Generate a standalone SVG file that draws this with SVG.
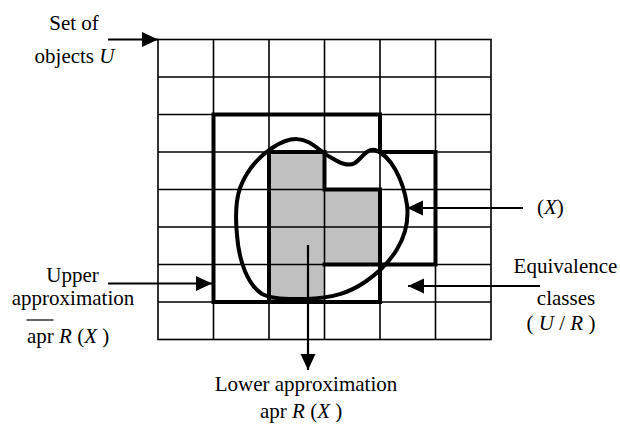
<svg xmlns="http://www.w3.org/2000/svg" width="620" height="427" viewBox="0 0 620 427">
<style>
.grid{stroke:#000;stroke-width:1.6;fill:none}
.thick{stroke:#000;stroke-width:4;fill:none;stroke-linejoin:miter;stroke-linecap:square}
.curve{stroke:#000;stroke-width:4;fill:none}
.arr{stroke:#000;stroke-width:2.2;fill:none}
text{font-family:"Liberation Serif","Times New Roman",serif;font-size:21px;fill:#000}
.it{font-style:italic}
</style>
<defs>
<marker id="ah" markerUnits="userSpaceOnUse" markerWidth="18" markerHeight="16" refX="16" refY="7.5" orient="auto">
<path d="M0,0 L16,7.5 L0,15 Z" fill="#000"/>
</marker>
</defs>
<g id="lower-fill">
<path d="M269,152 H324.5 V189.5 H380 V264.5 H324.5 V302 H269 Z" fill="#c0c0c0"/>
</g>
<g id="grid" class="grid">
<rect x="158" y="39.5" width="333" height="300"/>
<path d="M213.5,39.5 V339.5 M269,39.5 V339.5 M324.5,39.5 V339.5 M380,39.5 V339.5 M435.5,39.5 V339.5"/>
<path d="M158,77 H491 M158,114.5 H491 M158,152 H491 M158,189.5 H491 M158,227 H491 M158,264.5 H491 M158,302 H491"/>
</g>
<g id="upper-approximation">
<path class="thick" d="M213.5,114.5 H380 V152 H435.5 V264.5 H380 V302 H213.5 Z"/>
</g>
<g id="lower-approximation">
<path class="thick" d="M269,302 V152 H324.5 V189.5 H380 V264.5 H324.5"/>
</g>
<g id="set-X">
<path class="curve" d="M296,139 C310,139 318,150 330,157 C340,163 348,167 355,163 C362,158 367,148 375,150 C390,155 403,178 407,205 C411,238 390,265 365,282 C350,292 335,298 305,299 C285,299 272,299 262,294 C248,285 239,262 237,235 C235,215 236,200 240,188 C246,172 257,158 272,148 C281,142 288,139 296,139 Z"/>
</g>
<g id="connectors">
<line class="arr" x1="108" y1="39.5" x2="158" y2="39.5" marker-end="url(#ah)"/>
<line class="arr" x1="523" y1="208" x2="407" y2="208" marker-end="url(#ah)"/>
<line class="arr" x1="540" y1="286" x2="408" y2="286" marker-end="url(#ah)"/>
<line class="arr" x1="108" y1="283.5" x2="212" y2="283.5" marker-end="url(#ah)"/>
<line class="arr" x1="308" y1="245" x2="308" y2="370" marker-end="url(#ah)"/>
</g>
<g id="labels">
<text x="74" y="30" text-anchor="middle">Set of</text>
<text x="74.5" y="63" text-anchor="middle">objects <tspan class="it">U</tspan></text>
<text x="72.5" y="282" text-anchor="middle">Upper</text>
<text x="73" y="305" text-anchor="middle">approximation</text>
<line x1="26.5" y1="320" x2="53.5" y2="320" stroke="#000" stroke-width="1.2"/>
<text x="27" y="343">apr <tspan class="it">R</tspan> (<tspan class="it">X</tspan> )</text>
<text x="306" y="391" text-anchor="middle">Lower approximation</text>
<text x="260" y="418">apr <tspan class="it">R</tspan> (<tspan class="it">X</tspan> )</text>
<text x="537" y="214">(<tspan class="it">X</tspan>)</text>
<text x="565.5" y="273" text-anchor="middle">Equivalence</text>
<text x="566" y="305" text-anchor="middle">classes</text>
<text x="561" y="330" text-anchor="middle">( <tspan class="it">U</tspan> / <tspan class="it">R</tspan> )</text>
</g>
</svg>
